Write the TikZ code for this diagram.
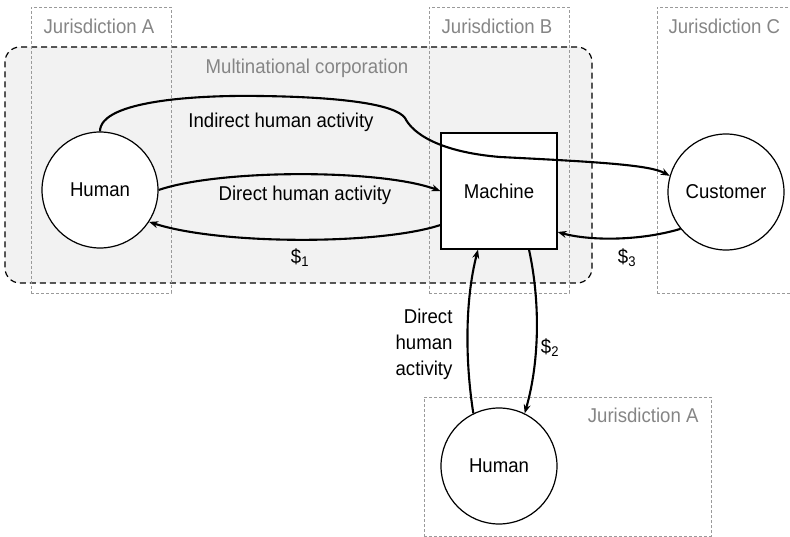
\documentclass[tikz,border=0pt]{standalone}
\usepackage{fontspec}
\setmainfont[FakeStretch=0.93]{Liberation Sans}
\usetikzlibrary{arrows.meta}
\definecolor{corpfill}{HTML}{F2F2F2}
\definecolor{jurline}{HTML}{9A9A9A}
\definecolor{jurtext}{HTML}{858585}
\tikzset{
  every node/.style={font=\fontsize{20}{26}\selectfont},
  jurbox/.style={draw=jurline, dash pattern=on 3pt off 2pt, line width=0.8pt, inner sep=0pt},
  jurlabel/.style={text=jurtext},
  actor/.style={circle, draw, line width=1.2pt, fill=white, minimum size=116pt, inner sep=0pt},
  machinebox/.style={rectangle, draw, line width=1.2pt, fill=white, minimum size=116pt, inner sep=0pt},
  flow/.style={line width=2.1pt, -{Stealth[length=9pt,width=7pt]}}
}
\begin{document}
\begin{tikzpicture}[x=1pt,y=-1pt]
\useasboundingbox (0,0) rectangle (790,537);
\clip (0,0) rectangle (790,537);

% multinational corporation
\node[draw, fill=corpfill, rounded corners=15pt, dash pattern=on 6pt off 4pt, line width=1.2pt,
      minimum width=587pt, minimum height=236pt, inner sep=0pt] (corp) at (298.5,165) {};
\node[jurlabel] (corplabel) at (307,68) {Multinational corporation};

% jurisdictions
\node[jurbox, minimum width=140pt, minimum height=286pt] (jA) at (101,150) {};
\node[jurbox, minimum width=140pt, minimum height=286pt] (jB) at (499,150) {};
\node[jurbox, minimum width=160pt, minimum height=286pt] (jC) at (737,150) {};
\node[jurbox, minimum width=287pt, minimum height=139pt] (jA2) at (567.5,466.5) {};
\node[jurlabel] (jAlabel) at (99,26) {Jurisdiction A};
\node[jurlabel] (jBlabel) at (497,26) {Jurisdiction B};
\node[jurlabel, anchor=west] (jClabel) at (665,26) {Jurisdiction C};
\node[jurlabel, anchor=east] (jA2label) at (702,415) {Jurisdiction A};

% actors
\node[actor] (hl) at (100,190) {Human};
\node[machinebox] (m) at (499,191) {Machine};
\node[actor] (cu) at (726,192) {Customer};
\node[actor] (hb) at (499,466) {Human};

% flows between human and machine
\draw[flow] (hl.north) .. controls (100,100) and (200,95) .. (260,96)
  .. controls (340,97) and (395,104) .. (405,118)
  .. controls (413,134) and (440,152) .. (500,157)
  .. controls (600,162) and (650,165) .. (cu.164);
\node (indirect) at (281,122) {Indirect human activity};

\draw[flow] (hl.east) .. controls (220,169) and (380,169) .. (m.west);
\node (direct) at (305,195) {Direct human activity};

\draw[flow] ([yshift=-34pt]m.west) .. controls (380,245) and (220,245) .. (hl.-33);
\node (d1) at (300,258) {\$\textsubscript{1}};

\draw[flow] (cu.-141) .. controls (640,241) and (590,241) .. ([yshift=-41pt]m.east);
\node (d3) at (627,258) {\$\textsubscript{3}};

\draw[flow] (hb.116) .. controls (465,360) and (465,300) .. ([xshift=-21pt]m.south);
\node[align=right, anchor=east] (direct2) at (456,344) {Direct\\human\\activity};

\draw[flow] ([xshift=30pt]m.south) .. controls (540,300) and (540,360) .. (hb.64);
\node (d2) at (550,348) {\$\textsubscript{2}};
\end{tikzpicture}
\end{document}
